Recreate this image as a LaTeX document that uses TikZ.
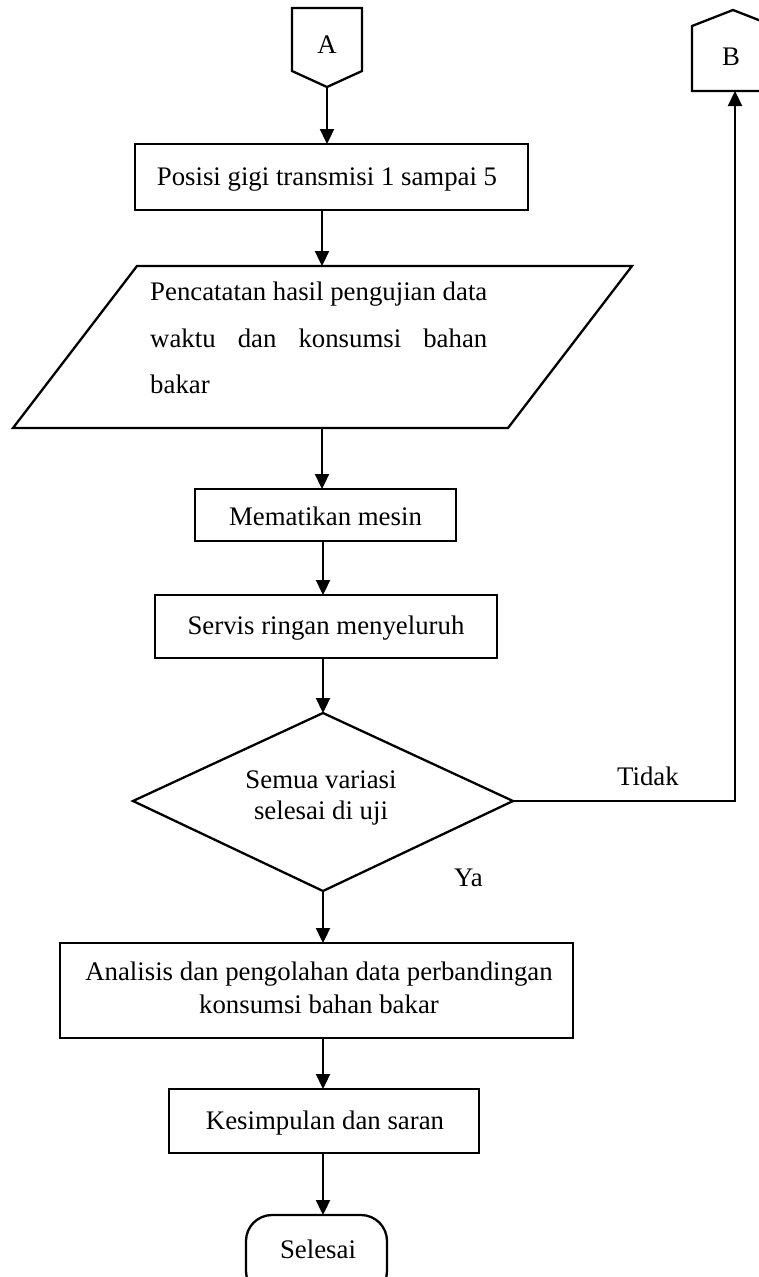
\documentclass[tikz,border=0pt]{standalone}
\usepackage{fontspec}
\setmainfont{Liberation Serif}
\usetikzlibrary{arrows.meta}
\newlength\pwid
\newcommand\flowfont{\fontsize{26.8}{32}\selectfont}
\begin{document}
\settowidth{\pwid}{\normalfont\flowfont Pencatatan hasil pengujian data}%
\begin{tikzpicture}[x=1pt,y=-1pt,
  lw/.style={line width=2.3pt},
  box/.style={draw, line width=2.3pt, inner sep=0pt, outer sep=0pt},
  arr/.style={line width=2.3pt, -{Triangle[length=15pt,width=14pt]}},
  lbl/.style={inner sep=0pt, anchor=base, font=\flowfont},
]
\useasboundingbox (0,0) rectangle (758,1277);
\fill[white] (0,0) rectangle (758,1277);

% off-page connector A
\draw[lw] (292,8) -- (362,8) -- (362,71) -- (327,87) -- (292,71) -- cycle;
\coordinate (Abot) at (327,87);
\node[lbl] (tA) at (327,53) {A};

% off-page connector B
\draw[lw] (692,91) -- (692,26) -- (733,10) -- (774,26) -- (774,91) -- cycle;
\coordinate (Bbot) at (735,91);
\node[lbl] (tB) at (731,65) {B};

% process boxes
\node[box, minimum width=393pt, minimum height=66pt] (b1) at (331.5,177) {};
\node[lbl] (t1) at (327,185) {Posisi gigi transmisi 1 sampai 5};

% data (parallelogram)
\draw[lw] (137,266) -- (632,266) -- (508,428) -- (13,428) -- cycle;
\coordinate (ptop) at (322,266);
\coordinate (pbot) at (322,428);
\node[lbl, anchor=base west] (p1) at (150,300) {Pencatatan hasil pengujian data};
\node[lbl, anchor=base west] (p2) at (150,347) {\makebox[\pwid][s]{waktu dan konsumsi bahan}};
\node[lbl, anchor=base west] (p3) at (150,393) {bakar};

\node[box, minimum width=261pt, minimum height=52pt] (b2) at (325.5,515) {};
\node[lbl] (t2) at (325.5,525) {Mematikan mesin};

\node[box, minimum width=342pt, minimum height=63pt] (b3) at (326,626.5) {};
\node[lbl] (t3) at (326,634) {Servis ringan menyeluruh};

% decision
\coordinate (dT) at (323,713);
\coordinate (dR) at (513,801);
\coordinate (dB) at (323,891);
\coordinate (dL) at (133,801);
\draw[lw] (dT) -- (dR) -- (dB) -- (dL) -- cycle;
\node[lbl] (d1) at (321,788) {Semua variasi};
\node[lbl] (d2) at (321,819) {selesai di uji};
\node[lbl, anchor=base west] (tTidak) at (617,785) {Tidak};
\node[lbl, anchor=base west] (tYa) at (454,886) {Ya};

\node[box, minimum width=513pt, minimum height=95pt] (b4) at (316.5,990.5) {};
\node[lbl] (t4a) at (319,980) {Analisis dan pengolahan data perbandingan};
\node[lbl] (t4b) at (319,1013) {konsumsi bahan bakar};

\node[box, minimum width=310pt, minimum height=64pt] (b5) at (324,1121) {};
\node[lbl] (t5) at (325,1129) {Kesimpulan dan saran};

% terminator
\node[box, rounded corners=26pt, minimum width=141pt, minimum height=82pt] (fin) at (316.5,1256) {};
\node[lbl] (t6) at (318,1258) {Selesai};

% connectors
\draw[arr] (Abot) -- (Abot |- b1.north);
\draw[arr] (ptop |- b1.south) -- (ptop);
\draw[arr] (pbot) -- (pbot |- b2.north);
\draw[arr] (dT |- b2.south) -- (dT |- b3.north);
\draw[arr] (dT |- b3.south) -- (dT);
\draw[arr] (dB) -- (dB |- b4.north);
\draw[arr] (dB |- b4.south) -- (dB |- b5.north);
\draw[arr] (dB |- b5.south) -- (dB |- fin.north);
\draw[arr] (dR) -| (Bbot);
\end{tikzpicture}
\end{document}
